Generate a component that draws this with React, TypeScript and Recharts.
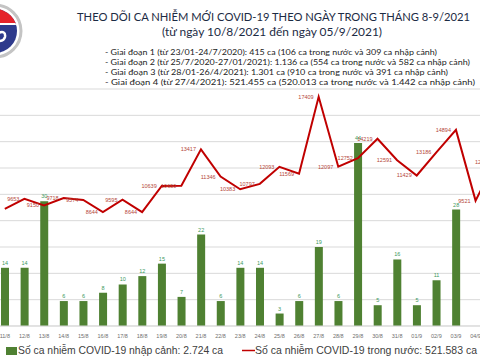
import React from "react";
import {
  ComposedChart,
  Bar,
  Line,
  XAxis,
  YAxis,
  CartesianGrid,
  LabelList,
} from "recharts";

const days = [
  "11/8", "12/8", "13/8", "14/8", "15/8", "16/8", "17/8", "18/8", "19/8", "20/8",
  "21/8", "22/8", "23/8", "24/8", "25/8", "26/8", "27/8", "28/8", "29/8", "30/8",
  "31/8", "01/9", "02/9", "03/9", "04/9", "05/9",
];

// ca nhập cảnh (cột xanh)
const importedCases = [
  14, 14, 30, 6, 6, 8, 10, 12, 15, 7, 22, 6, 14, 14, 3, 6, 19, 6, 44, 5, 16, 5, 11,
  28, 0, 1,
];

// ca trong nước (đường đỏ)
const domesticCases = [
  8900, 9653, 9150, 9718, 9574, 8644, 9595, 8644, 10639, 10650, 13417, 11346, 10383,
  10797, 12093, 11569, 17409, 12097, 12752, 14219, 12591, 11429, 13186, 14894, 9521,
  12480,
];

const lineTicks = [0, 2000, 4000, 6000, 8000, 10000, 12000, 14000, 16000];

const stages = [
  "- Giai đoạn 1 (từ 23/01-24/7/2020): 415 ca (106 ca trong nước và 309 ca nhập cảnh)",
  "- Giai đoạn 2 (từ 25/7/2020-27/01/2021): 1.136 ca (554 ca trong nước và 582 ca nhập cảnh)",
  "- Giai đoạn 3 (từ 28/01-26/4/2021): 1.301 ca (910 ca trong nước và 391 ca nhập cảnh)",
  "- Giai đoạn 4 (từ 27/4/2021): 521.455 ca (520.013 ca trong nước và 1.442 ca nhập cảnh)",
];
const stageWidths = [332, 365, 343, 370];

const data = days.map((day, i) => ({
  day,
  imported: importedCases[i],
  domestic: domesticCases[i],
}));

const Logo = () => (
  <g>
    <circle cx={-5} cy={31} r={26} fill="#fff" stroke="#c4c4c4" strokeWidth={3} />
    <clipPath id="logoClip">
      <circle cx={-5} cy={31} r={22} />
    </clipPath>
    <g clipPath="url(#logoClip)">
      <rect x={-30} y={5} width={60} height={60} fill="#2e3a8c" />
      <rect x={-30} y={5} width={60} height={19} fill="#e5222b" />
      <rect x={-30} y={23} width={60} height={2} fill="#fff" />
    </g>
    <path
      d="M -2 33 Q 6 30 5 37 Q 4 41 -1 41"
      fill="none"
      stroke="#fff"
      strokeWidth={2.5}
    />
  </g>
);

const App = () => {
  return (
    <div
      style={{
        position: "absolute",
        left: 0,
        top: 0,
        width: 480,
        height: 360,
        overflow: "hidden",
        background: "#fff",
      }}
    >
      <div style={{ position: "absolute", left: -5, top: 0 }}>
        <ComposedChart
          width={510}
          height={360}
          data={data}
          margin={{ top: 89, right: 0, bottom: 18, left: 0 }}
        >
          <CartesianGrid vertical={false} yAxisId="line" stroke="#d9d9d9" />
          <XAxis
            dataKey="day"
            interval={0}
            tickLine={false}
            axisLine={{ stroke: "#d9d9d9" }}
            height={16}
            tickMargin={2}
            tick={{ fontSize: 5.5, fill: "#6e6e6e", fontFamily: "Liberation Sans" }}
          />
          <YAxis yAxisId="bar" hide domain={[0, 57]} />
          <YAxis yAxisId="line" hide domain={[0, 18000]} ticks={lineTicks} />
          <Bar
            yAxisId="bar"
            dataKey="imported"
            fill="#4f8132"
            barSize={8}
            isAnimationActive={false}
          >
            <LabelList
              dataKey="imported"
              position="top"
              offset={3}
              style={{ fontSize: 5.5, fill: "#3d9960", fontFamily: "Liberation Sans" }}
            />
          </Bar>
          <Line
            yAxisId="line"
            dataKey="domestic"
            stroke="#c00000"
            strokeWidth={2}
            dot={false}
            type="linear"
            isAnimationActive={false}
          >
            <LabelList
              dataKey="domestic"
              position="left"
              offset={5}
              style={{ fontSize: 5.5, fill: "#b5473a", fontFamily: "Liberation Sans" }}
            />
          </Line>
        </ComposedChart>
      </div>
      <svg
        width={480}
        height={360}
        style={{ position: "absolute", left: 0, top: 0, pointerEvents: "none" }}
      >
        <Logo />
        <text
          x={77}
          y={21}
          fontSize={11}
          fontFamily="Lato"
          fill="#1c2b44"
          textLength={393}
          lengthAdjust="spacingAndGlyphs"
        >
          THEO DÕI CA NHIỄM MỚI COVID-19 THEO NGÀY TRONG THÁNG 8-9/2021
        </text>
        <text
          x={162}
          y={36}
          fontSize={11}
          fontFamily="Lato"
          fill="#1c2b44"
          textLength={220}
          lengthAdjust="spacingAndGlyphs"
        >
          (từ ngày 10/8/2021 đến ngày 05/9/2021)
        </text>
        {stages.map((s, i) => (
          <text
            key={s}
            x={105}
            y={54.5 + i * 10}
            fontSize={8}
            fontFamily="Lato"
            fill="#222"
            textLength={stageWidths[i]}
            lengthAdjust="spacingAndGlyphs"
          >
            {s}
          </text>
        ))}
        <rect x={6} y={347} width={11} height={8} fill="#4f8132" />
        <text
          x={18}
          y={354}
          fontSize={11.5}
          fontFamily="Liberation Sans"
          fill="#404040"
          textLength={205}
          lengthAdjust="spacingAndGlyphs"
        >
          Số ca nhiễm COVID-19 nhập cảnh: 2.724 ca
        </text>
        <line x1={242} y1={350.5} x2={255} y2={350.5} stroke="#c00000" strokeWidth={1.5} />
        <text
          x={255}
          y={354}
          fontSize={11.5}
          fontFamily="Liberation Sans"
          fill="#404040"
          textLength={222}
          lengthAdjust="spacingAndGlyphs"
        >
          Số ca nhiễm COVID-19 trong nước: 521.583 ca
        </text>
      </svg>
    </div>
  );
};

export default App;
